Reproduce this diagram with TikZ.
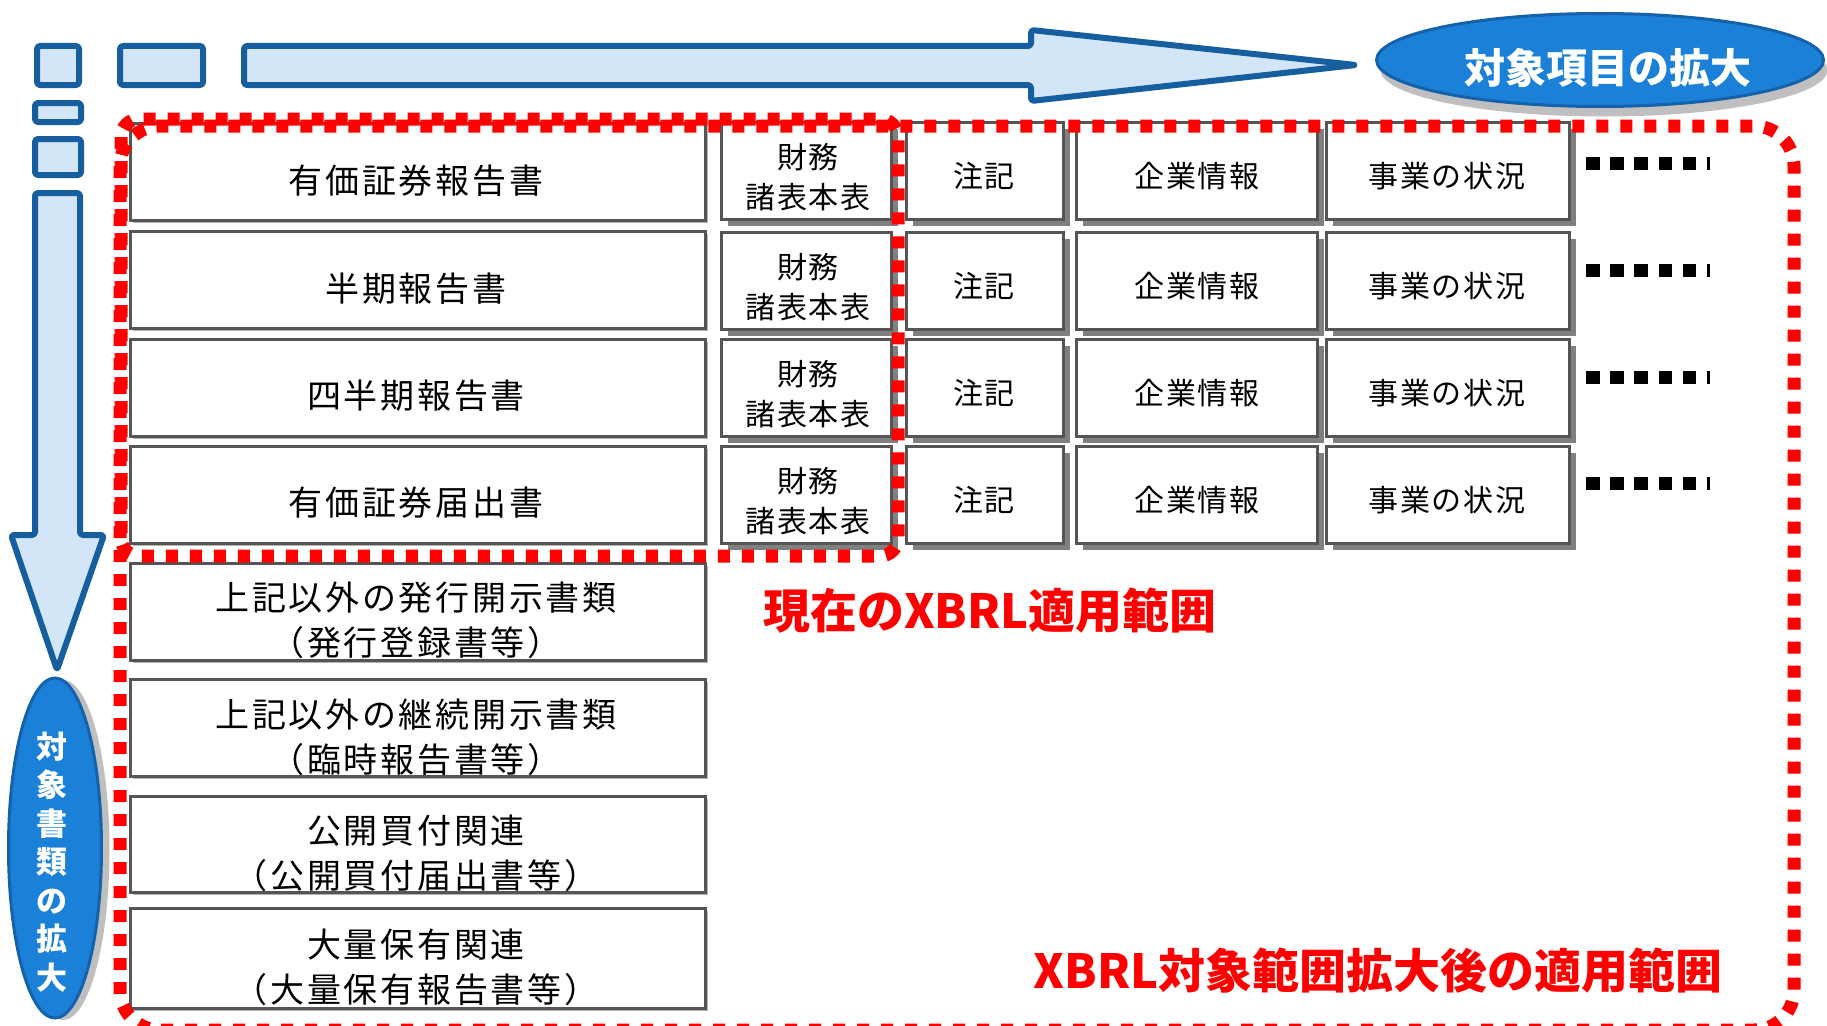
\documentclass[tikz,border=0pt]{standalone}
\usepackage{fontspec}
\setmainfont{Noto Sans CJK JP}
\newfontfamily\jpwide[LetterSpace=8]{Noto Sans CJK JP}
\newfontfamily\jpmid[LetterSpace=6]{Noto Sans CJK JP}
\usetikzlibrary{shapes.geometric,shadows}
\definecolor{lblue}{RGB}{211,230,248}
\definecolor{dblue}{RGB}{22,94,158}
\definecolor{eblue}{RGB}{26,128,216}
\definecolor{eborder}{RGB}{22,98,170}
\definecolor{bordergray}{RGB}{85,85,85}
\definecolor{shadowgray}{RGB}{128,128,128}
\definecolor{xred}{RGB}{255,0,0}
\begin{document}
\begin{tikzpicture}[x=1pt,y=-1pt,
  blueshape/.style={draw=dblue, fill=lblue, line width=6pt, rounded corners=3pt, line join=round},
  leftbox/.style={draw=bordergray, fill=white, line width=3pt, minimum width=575pt, inner sep=0pt,
    drop shadow={shadow xshift=2pt, shadow yshift=-2pt, fill=shadowgray!60, opacity=1}},
  cellbox/.style={draw=bordergray, fill=white, line width=3pt, minimum height=97pt, inner sep=0pt,
    drop shadow={shadow xshift=6pt, shadow yshift=-6pt, fill=shadowgray, opacity=1}},
  lefttxt/.style={font=\jpwide\fontsize{34}{45}\selectfont, align=center, inner sep=0pt},
  celltxt/.style={font=\jpmid\fontsize{30}{40}\selectfont, align=center, inner sep=0pt},
  redtxt/.style={font=\bfseries\fontsize{47}{52}\selectfont, text=xred, inner sep=0pt},
  reddots/.style={draw=xred, line width=13pt, dash pattern=on 12pt off 12pt},
  blackdots/.style={draw=black, line width=13pt, dash pattern=on 13.5pt off 10.7pt}
]
\useasboundingbox (0,0) rectangle (1827,1025);
\fill[white] (0,0) rectangle (1827,1025);
\clip (0,0) rectangle (1827,1025);

% top blue shapes
\draw[blueshape] (37,46) rectangle (79,85);
\draw[blueshape] (120,46) rectangle (203,85);
\draw[blueshape] (244,46) -- (1031,46) -- (1031,30) -- (1356,65) -- (1031,101) -- (1031,85) -- (244,85) -- cycle;
% left blue shapes
\draw[blueshape] (35,103) rectangle (81,122);
\draw[blueshape] (35,139) rectangle (81,175);
\draw[blueshape] (35,193) -- (35,535) -- (11,535) -- (57,670) -- (104,535) -- (80,535) -- (80,193) -- cycle;

% ellipses
\node[ellipse, draw=eborder, line width=3pt, fill=eblue, minimum width=447pt, minimum height=93pt, inner sep=0pt,
  drop shadow={shadow xshift=4pt, shadow yshift=-10pt, fill=gray!50, opacity=1}] (topell) at (1600,60) {};
\node[font=\bfseries\fontsize{41}{45}\selectfont, text=white, inner sep=0pt] (toptxt) at (1608,68) {対象項目の拡大};

\node[ellipse, draw=eborder, line width=3pt, fill=eblue, minimum width=93pt, minimum height=340pt, inner sep=0pt,
  drop shadow={shadow xshift=8pt, shadow yshift=-2pt, fill=gray!50, opacity=1}] (leftell) at (55,848) {};
\node[font=\bfseries\fontsize{31}{38.5}\selectfont, text=white, align=center, inner sep=0pt] (lefttxtv) at (52,862) {対\\象\\書\\類\\の\\拡\\大};

% left column boxes
\node[leftbox, minimum height=97pt] (d1) at (418,172) {};
\node[leftbox, minimum height=97pt] (d2) at (418,280) {};
\node[leftbox, minimum height=97pt] (d3) at (418,388) {};
\node[leftbox, minimum height=97pt] (d4) at (418,495) {};
\node[leftbox, minimum height=97pt] (d5) at (418,612) {};
\node[leftbox, minimum height=97pt] (d6) at (418,728) {};
\node[leftbox, minimum height=96pt] (d7) at (418,844.5) {};
\node[leftbox, minimum height=100pt] (d8) at (418,958.5) {};

\node[lefttxt] (t1) at (416,181) {有価証券報告書};
\node[lefttxt] (t2) at (416,289) {半期報告書};
\node[lefttxt] (t3) at (416,396) {四半期報告書};
\node[lefttxt] (t4) at (416,503) {有価証券届出書};
\node[lefttxt] (t5) at (416,620) {上記以外の発行開示書類\\（発行登録書等）};
\node[lefttxt] (t6) at (416,737) {上記以外の継続開示書類\\（臨時報告書等）};
\node[lefttxt] (t7) at (416,853) {公開買付関連\\（公開買付届出書等）};
\node[lefttxt] (t8) at (416,967) {大量保有関連\\（大量保有報告書等）};

% right cells
\foreach \r/\y in {1/171,2/281,3/388,4/495} {
  \node[cellbox, minimum width=170pt] (zaimu\r) at (806.5,\y) {};
  \node[cellbox, minimum width=157pt] (chuki\r) at (985,\y) {};
  \node[cellbox, minimum width=241pt] (kigyo\r) at (1197,\y) {};
  \node[cellbox, minimum width=243pt] (jigyo\r) at (1448,\y) {};
  \node[celltxt] (zaimut\r) at (808,\y+6) {財務\\諸表本表};
  \node[celltxt] (chukit\r) at (984,\y+5) {注記};
  \node[celltxt] (kigyot\r) at (1197,\y+5) {企業情報};
  \node[celltxt] (jigyot\r) at (1447,\y+5) {事業の状況};
}

% red dotted ranges
\draw[reddots, rounded corners=40pt] (120,126) rectangle (1794,1030);
\draw[reddots, rounded corners=18pt] (121,119) rectangle (898,556);

% black continuation dots
\foreach \y in {163,270,377,483} {
  \draw[blackdots] (1586,\y) -- (1710,\y);
}

% red labels
\node[redtxt] (cur) at (990,611) {現在のXBRL適用範囲};
\node[redtxt] (ext) at (1378,971) {XBRL対象範囲拡大後の適用範囲};
\end{tikzpicture}
\end{document}
